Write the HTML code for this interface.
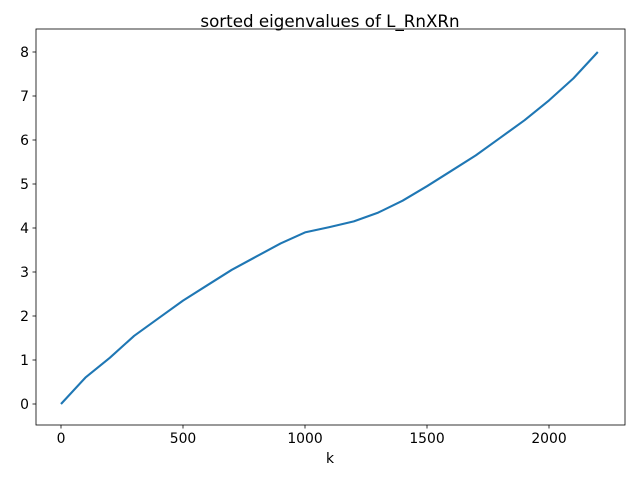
<!DOCTYPE html>
<html><head><meta charset="utf-8"><style>
body{margin:0;background:#fff;}
svg text{font-family:"DejaVu Sans","Liberation Sans",sans-serif;font-size:13.9px;fill:#000;}
</style></head><body>
<svg id="chart" width="640" height="480">
<rect x="0" y="0" width="640" height="480" fill="#fff"/>
<text x="330" y="27" text-anchor="middle" style="font-size:16.7px">sorted eigenvalues of L_RnXRn</text>
<text x="330" y="463" text-anchor="middle">k</text>
<g id="marks"></g>
<rect x="36" y="29" width="589" height="396" fill="none" stroke="#000" stroke-width="0.8"/>
</svg>
<script>
const kValues=[0,100,200,300,400,500,600,700,800,900,1000,1100,1200,1300,1400,1500,1600,1700,1800,1900,2000,2100,2200];
const eigenValues=[0,0.6,1.05,1.55,1.95,2.35,2.7,3.05,3.35,3.65,3.9,4.02,4.15,4.35,4.62,4.95,5.3,5.65,6.05,6.45,6.9,7.4,8.0];
const xTicks=[0,500,1000,1500,2000];
const yTicks=[0,1,2,3,4,5,6,7,8];
const NS='http://www.w3.org/2000/svg';
function xs(v){return 61+v*(549-61)/2000;}
function ys(v){return 404-v*(404-52)/8;}
const g=document.getElementById('marks');
function mk(t,a){const e=document.createElementNS(NS,t);for(const k in a)e.setAttribute(k,a[k]);g.appendChild(e);return e;}
xTicks.forEach(t=>{
 const l=mk('line',{x1:xs(t),x2:xs(t),y1:425,y2:428.5,stroke:'#000','stroke-width':0.8});
 
 
 const tx=mk('text',{x:xs(t),y:443,'text-anchor':'middle'});tx.textContent=t;
 
 
});
yTicks.forEach(t=>{
 const l=mk('line',{x1:32.5,x2:36,y1:ys(t),y2:ys(t),stroke:'#000','stroke-width':0.8});
 
 
 const tx=mk('text',{x:29,y:ys(t)+5,'text-anchor':'end'});tx.textContent=t;
 
 
});
const pts=kValues.map((k,i)=>xs(k).toFixed(1)+','+ys(eigenValues[i]).toFixed(1)).join(' ');
const line=mk('polyline',{points:pts,fill:'none',stroke:'#1f77b4','stroke-width':2.1,'stroke-linejoin':'round'});


</script>
</body></html>
